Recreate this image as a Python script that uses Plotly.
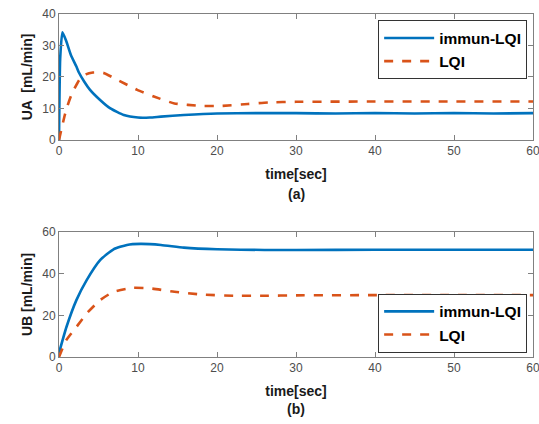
import plotly.graph_objects as go

BLUE = "#0072BD"
ORANGE = "#D95319"
AXIS = "#808080"
TICK_FONT = {"family": "Liberation Sans, Arial", "size": 12, "color": "#4d4d4d"}
TITLE_FONT = {"family": "Liberation Sans, Arial", "size": 14, "color": "#1a1a1a"}

# (a) UA  [mL/min]
t_ua_immun = [0, 0.15, 0.43, 0.9, 1.5, 2.2, 2.5, 3.2, 3.9, 5.2, 6.5, 8.2, 10, 11.5,
              12.9, 15.8, 20, 25, 30, 35, 40, 45, 50, 55, 60]
ua_immun = [0, 26, 34.2, 31.5, 27, 23.3, 21.5, 18.5, 16.0, 12.7, 10.0, 7.9, 7.1, 7.1,
            7.4, 7.9, 8.4, 8.5, 8.5, 8.4, 8.5, 8.4, 8.5, 8.4, 8.5]
t_ua_lqi = [0, 0.5, 0.9, 1.6, 2.6, 3.4, 4.3, 5.6, 7.3, 9.9, 12, 14.6, 18, 20.5,
            23.9, 26.5, 30, 40, 50, 60]
ua_lqi = [0, 5.5, 9.5, 14.5, 19.2, 20.8, 21.4, 21.3, 19.2, 15.9, 13.8, 11.6, 10.8, 10.8,
          11.4, 11.9, 12.1, 12.2, 12.2, 12.2]

# (b) UB [mL/min]
t_ub_immun = [0, 0.94, 2.2, 3.5, 5.2, 6.9, 8.6, 10.3, 12.9, 15.8, 20, 26, 30, 40, 50, 60]
ub_immun = [2, 14.4, 27.3, 36.9, 46.5, 51.7, 53.8, 54.3, 53.8, 52.5, 51.7, 51.4, 51.4,
            51.5, 51.5, 51.5]
t_ub_lqi = [0, 0.9, 2.2, 3.5, 5.2, 6.9, 9.4, 11.6, 14.6, 18, 22.2, 26, 30, 40, 50, 60]
ub_lqi = [0, 8, 14.4, 20.9, 27.3, 31.3, 33.2, 32.9, 31.3, 30, 29.4, 29.4, 29.6, 29.7,
          29.7, 29.7]

x_ticks = [0, 10, 20, 30, 40, 50, 60]

fig = go.Figure()

fig.add_trace(go.Scatter(x=t_ua_immun, y=ua_immun, name="immun-LQI", mode="lines",
                         line={"color": BLUE, "width": 2.6, "shape": "spline", "smoothing": 0.5},
                         xaxis="x", yaxis="y", legend="legend"))
fig.add_trace(go.Scatter(x=t_ua_lqi, y=ua_lqi, name="LQI", mode="lines",
                         line={"color": ORANGE, "width": 2.6, "dash": "dash", "shape": "spline",
                               "smoothing": 0.5},
                         xaxis="x", yaxis="y", legend="legend"))
fig.add_trace(go.Scatter(x=t_ub_immun, y=ub_immun, name="immun-LQI", mode="lines",
                         line={"color": BLUE, "width": 2.6, "shape": "spline", "smoothing": 0.5},
                         xaxis="x2", yaxis="y2", legend="legend2"))
fig.add_trace(go.Scatter(x=t_ub_lqi, y=ub_lqi, name="LQI", mode="lines",
                         line={"color": ORANGE, "width": 2.6, "dash": "dash", "shape": "spline",
                               "smoothing": 0.5},
                         xaxis="x2", yaxis="y2", legend="legend2"))

axis_common = {
    "showgrid": False,
    "zeroline": False,
    "showline": True,
    "linecolor": AXIS,
    "linewidth": 1,
    "mirror": "allticks",
    "ticks": "inside",
    "ticklen": 5,
    "tickcolor": AXIS,
    "tickfont": TICK_FONT,
    "automargin": False,
}

legend_common = {
    "bgcolor": "white",
    "bordercolor": "#333333",
    "borderwidth": 1,
    "font": {"family": "Liberation Sans, Arial", "size": 15.5, "color": "#000000",
             "weight": "bold"},
    "itemwidth": 50,
    "tracegroupgap": 0,
    "xanchor": "right",
    "x": 0.978,
}

fig.update_layout(
    width=539,
    height=424,
    margin={"l": 0, "r": 0, "t": 0, "b": 0},
    plot_bgcolor="white",
    paper_bgcolor="white",
    xaxis={**axis_common, "domain": [0.1095, 0.9889], "range": [0, 60], "tickvals": x_ticks,
           "anchor": "y", "ticklabeloverflow": "allow",
           "title": {"text": "<b>time[sec]</b>", "font": TITLE_FONT, "standoff": 11}},
    yaxis={**axis_common, "domain": [0.670, 0.967], "range": [0, 40],
           "tickvals": [0, 10, 20, 30, 40], "anchor": "x",
           "title": {"text": "<b>UA  [mL/min]</b>", "font": TITLE_FONT, "standoff": 6}},
    xaxis2={**axis_common, "domain": [0.1095, 0.9889], "range": [0, 60], "tickvals": x_ticks,
            "anchor": "y2", "ticklabeloverflow": "allow",
            "title": {"text": "<b>time[sec]</b>", "font": TITLE_FONT, "standoff": 11}},
    yaxis2={**axis_common, "domain": [0.158, 0.4528], "range": [0, 60],
            "tickvals": [0, 20, 40, 60], "anchor": "x2",
            "title": {"text": "<b>UB [mL/min]</b>", "font": TITLE_FONT, "standoff": 6}},
    legend={**legend_common, "y": 0.952, "yanchor": "top"},
    legend2={**legend_common, "y": 0.168, "yanchor": "bottom"},
    annotations=[
        {"text": "<b>(a)</b>", "x": 296 / 539, "y": 1 - 194 / 424, "xref": "paper",
         "yref": "paper", "yanchor": "middle", "showarrow": False, "font": TITLE_FONT},
        {"text": "<b>(b)</b>", "x": 296 / 539, "y": 1 - 409 / 424, "xref": "paper",
         "yref": "paper", "yanchor": "middle", "showarrow": False, "font": TITLE_FONT},
    ],
)

fig.write_html("out.html", config={"displayModeBar": False},
               post_script="document.body.style.margin = '0';")
